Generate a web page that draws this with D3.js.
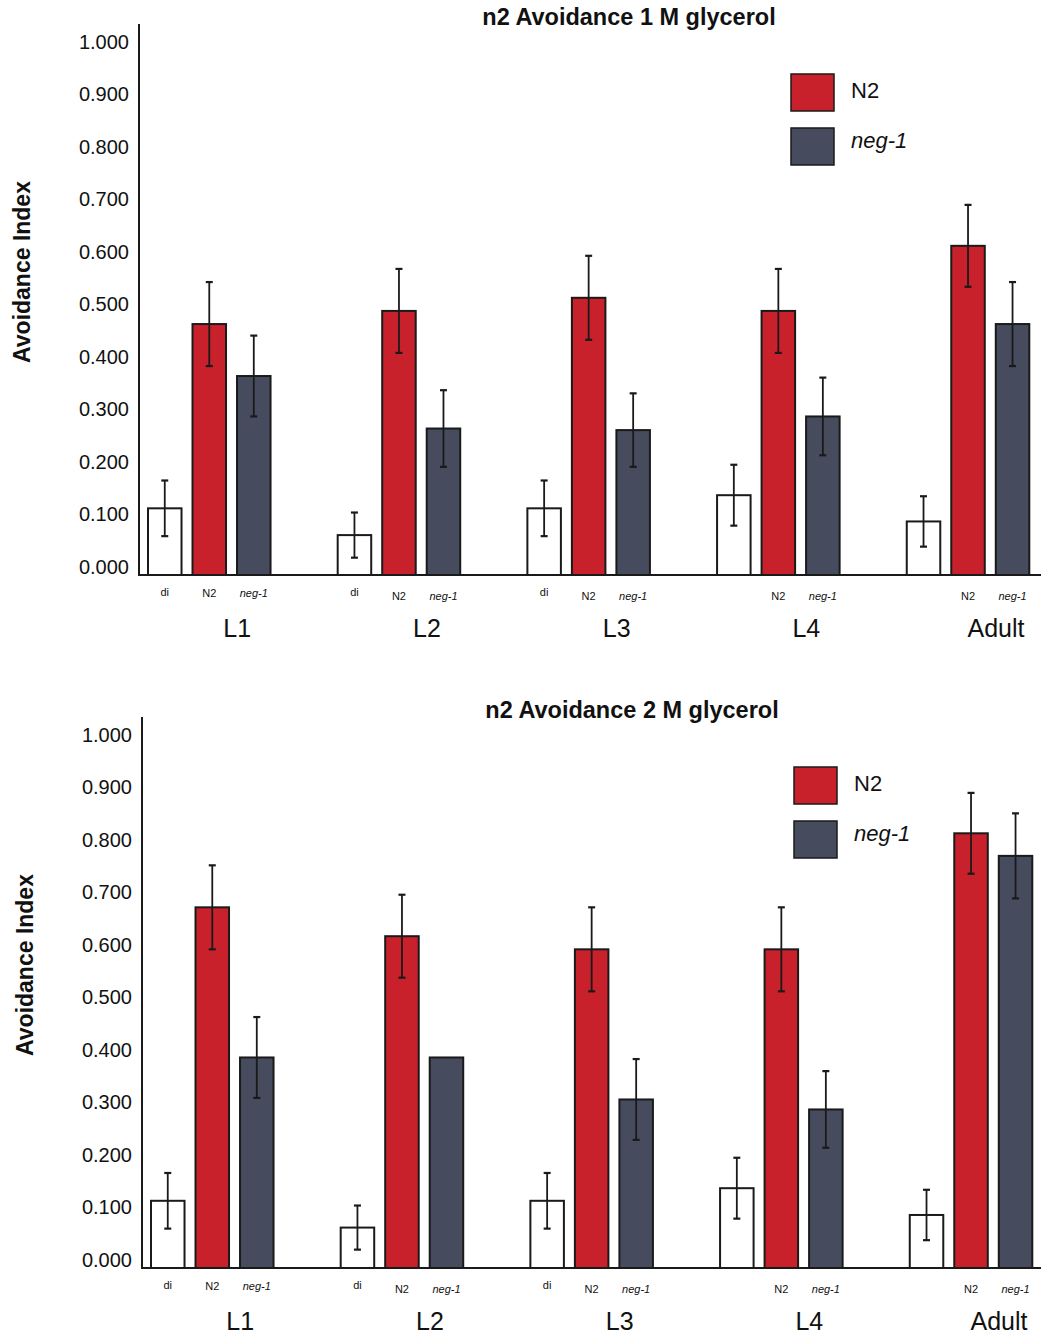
<!DOCTYPE html>
<html>
<head>
<meta charset="utf-8">
<script src="https://cdn.jsdelivr.net/npm/d3@7"></script>
<style>
  html, body { margin: 0; padding: 0; background: #ffffff; }
  svg { display: block; }
  text { font-family: "Liberation Sans", Arial, Helvetica, sans-serif; fill: #111; }
</style>
</head>
<body>
<svg id="chart" width="1041" height="1341"></svg>
<script>
// ---- data ----
const groups = ["L1", "L2", "L3", "L4", "Adult"];
const strains = ["di", "N2", "neg-1"];
const legendLabels = ["N2", "neg-1"];
const diTickLabels = ["di", "di", "di", "", ""];
const yTicks = [0, 0.1, 0.2, 0.3, 0.4, 0.5, 0.6, 0.7, 0.8, 0.9, 1.0];

const titles = ["n2 Avoidance 1 M glycerol", "n2 Avoidance 2 M glycerol"];
const yLabel = "Avoidance Index";

// Chart 1: 1 M glycerol
const c1Di     = [0.127, 0.076, 0.127, 0.152, 0.102];
const c1DiErr  = [0.053, 0.043, 0.053, 0.058, 0.048];
const c1N2     = [0.478, 0.503, 0.528, 0.503, 0.627];
const c1N2Err  = [0.080, 0.080, 0.080, 0.080, 0.078];
const c1Neg    = [0.379, 0.279, 0.276, 0.302, 0.478];
const c1NegErr = [0.077, 0.073, 0.070, 0.074, 0.080];

// Chart 2: 2 M glycerol
const c2Di     = [0.128, 0.077, 0.128, 0.152, 0.101];
const c2DiErr  = [0.053, 0.042, 0.053, 0.058, 0.048];
const c2N2     = [0.687, 0.632, 0.607, 0.607, 0.828];
const c2N2Err  = [0.080, 0.079, 0.080, 0.080, 0.077];
const c2Neg    = [0.401, 0.401, 0.321, 0.302, 0.785];
const c2NegErr = [0.077, 0.000, 0.077, 0.073, 0.081];

// ---- styling ----
const colors = { "di": "#ffffff", "N2": "#c8212b", "neg-1": "#464c5e" };
const ink = "#1a1a1a";

const svg = d3.select("#chart");

function drawChart(dx, dy, title, di, diErr, n2, n2Err, neg, negErr) {
  const g = svg.append("g").attr("transform", `translate(${dx},${dy})`);

  const axisX = 139, axisTop = 24, base = 575;
  const y = d3.scaleLinear().domain([0, 1]).range([base, base - 525]);

  const x0 = d3.scaleBand().domain(groups).range([148, 1029.3]).paddingInner(0.354).paddingOuter(0);
  const x1 = d3.scaleBand().domain(strains).range([0, x0.bandwidth()]).paddingInner(0.247).paddingOuter(0);

  const rows = [];
  groups.forEach((grp, i) => {
    rows.push({ grp, s: "di", v: di[i], e: diErr[i] });
    rows.push({ grp, s: "N2", v: n2[i], e: n2Err[i] });
    rows.push({ grp, s: "neg-1", v: neg[i], e: negErr[i] });
  });

  // title
  g.append("text")
    .attr("x", 629).attr("y", 25)
    .attr("text-anchor", "middle")
    .style("font-size", "23.5px").style("font-weight", "bold")
    .text(title);

  // y axis
  const yAxis = d3.axisLeft(y).tickValues(yTicks).tickSize(0).tickPadding(10).tickFormat(d3.format(".3f"));
  const ax = g.append("g").attr("transform", `translate(${axisX},0)`).call(yAxis);
  ax.select(".domain").remove();
  ax.selectAll("text")
    .attr("y", -8)
    .style("font-size", "20px")
    .style("font-family", "'Liberation Sans', Arial, sans-serif")
    .attr("fill", "#222");

  g.append("line")
    .attr("x1", axisX).attr("x2", axisX).attr("y1", axisTop).attr("y2", base + 1)
    .attr("stroke", ink).attr("stroke-width", 2);

  // y label
  g.append("text")
    .attr("transform", `translate(30,${272}) rotate(-90)`)
    .attr("text-anchor", "middle")
    .style("font-size", "23px").style("font-weight", "bold")
    .text(yLabel);

  // bars
  g.append("g").selectAll("rect").data(rows).join("rect")
    .attr("x", d => x0(d.grp) + x1(d.s))
    .attr("y", d => y(d.v))
    .attr("width", x1.bandwidth())
    .attr("height", d => base - y(d.v))
    .attr("fill", d => colors[d.s])
    .attr("stroke", ink)
    .attr("stroke-width", 2);

  // baseline
  g.append("line")
    .attr("x1", axisX - 1).attr("x2", 1041 - dx).attr("y1", base).attr("y2", base)
    .attr("stroke", ink).attr("stroke-width", 2.2);

  // error bars
  const eb = g.append("g").selectAll("g").data(rows.filter(d => d.e > 0)).join("g")
    .attr("transform", d => `translate(${x0(d.grp) + x1(d.s) + x1.bandwidth() / 2},0)`);
  eb.append("line")
    .attr("x1", 0).attr("x2", 0)
    .attr("y1", d => y(d.v + d.e)).attr("y2", d => y(d.v - d.e))
    .attr("stroke", ink).attr("stroke-width", 1.8);
  eb.append("line")
    .attr("x1", -3.5).attr("x2", 3.5)
    .attr("y1", d => y(d.v + d.e)).attr("y2", d => y(d.v + d.e))
    .attr("stroke", ink).attr("stroke-width", 2.2);
  eb.append("line")
    .attr("x1", -3.5).attr("x2", 3.5)
    .attr("y1", d => y(d.v - d.e)).attr("y2", d => y(d.v - d.e))
    .attr("stroke", ink).attr("stroke-width", 2.2);

  // sub labels (strain names under bars)
  groups.forEach((grp, i) => {
    const subs = [
      { s: "di", t: diTickLabels[i], yy: base + 21 },
      { s: "N2", t: "N2", yy: base + (i === 0 ? 22 : 25) },
      { s: "neg-1", t: "neg-1", yy: base + (i === 0 ? 22 : 25) }
    ];
    subs.forEach(sb => {
      if (!sb.t) return;
      g.append("text")
        .attr("x", x0(grp) + x1(sb.s) + x1.bandwidth() / 2)
        .attr("y", sb.yy)
        .attr("text-anchor", "middle")
        .style("font-size", "11px")
        .style("font-style", sb.s === "neg-1" ? "italic" : "normal")
        .attr("fill", "#222")
        .text(sb.t);
    });
    // group label
    g.append("text")
      .attr("x", x0(grp) + x0.bandwidth() / 2 + 28)
      .attr("y", base + 62)
      .attr("text-anchor", "middle")
      .style("font-size", "25px")
      .text(grp);
  });

  // legend
  const lg = g.append("g").attr("transform", "translate(791,74)");
  legendLabels.forEach((lab, i) => {
    lg.append("rect")
      .attr("x", 0).attr("y", i * 54)
      .attr("width", 43).attr("height", 37)
      .attr("fill", colors[lab])
      .attr("stroke", ink).attr("stroke-width", 1.5);
    lg.append("text")
      .attr("x", 60).attr("y", i === 0 ? 24 : 74)
      .style("font-size", "22px")
      .style("font-style", lab === "neg-1" ? "italic" : "normal")
      .text(lab);
  });
}

drawChart(0, 0, titles[0], c1Di, c1DiErr, c1N2, c1N2Err, c1Neg, c1NegErr);
drawChart(3, 693, titles[1], c2Di, c2DiErr, c2N2, c2N2Err, c2Neg, c2NegErr);
</script>
</body>
</html>
